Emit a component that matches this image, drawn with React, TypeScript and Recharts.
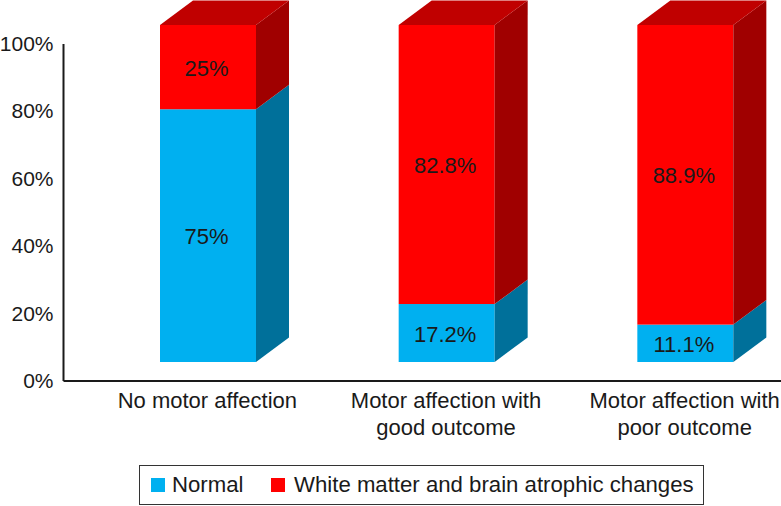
import React from 'react';
import { BarChart, Bar, XAxis, YAxis, Legend, LabelList } from 'recharts';

const categories = ['No motor affection', 'Motor affection with good outcome', 'Motor affection with poor outcome'];
const categoryLines = [['No motor affection'], ['Motor affection with', 'good outcome'], ['Motor affection with', 'poor outcome']];
const normal = [75, 17.2, 11.1];
const whiteMatter = [25, 82.8, 88.9];
const yTicks = [0, 20, 40, 60, 80, 100];

const data = categories.map((name, i) => ({ name, normal: normal[i], whiteMatter: whiteMatter[i] }));

const FONT = '"Liberation Sans", Arial, sans-serif';
const TEXT = '#1a1a1a';
// bars sit on a raised floor, the 3D look of the original
const LIFT = 19;
const DX = 33;
const DY = 24.5;

const Bar3D = ({ x, y, width, height, front, side, top }: any) => {
  const fy = y - LIFT;
  const r = x + width;
  const b = fy + height;
  return (
    <g>
      <rect x={x} y={fy} width={width} height={height} fill={front} />
      <polygon points={`${r},${fy} ${r + DX},${fy - DY} ${r + DX},${b - DY} ${r},${b}`} fill={side} />
      {top && <polygon points={`${x},${fy} ${x + DX},${fy - DY} ${r + DX},${fy - DY} ${r},${fy}`} fill={top} />}
    </g>
  );
};

const BarLabel = ({ x, y, width, height, value }: any) => (
  <text
    x={x + width / 2 - 1.5}
    y={y - LIFT + height / 2 + 1}
    textAnchor="middle"
    dominantBaseline="central"
    fontFamily={FONT}
    fontSize={22}
    fill={TEXT}
  >
    {value}%
  </text>
);

const CategoryTick = ({ x, y, index }: any) => (
  <text x={x - 1} y={y + 19} textAnchor="middle" fontFamily={FONT} fontSize={22} fill={TEXT}>
    {categoryLines[index].map((line, i) => (
      <tspan key={line} x={x - 1} dy={i === 0 ? 0 : 27}>
        {line}
      </tspan>
    ))}
  </text>
);

const LegendBox = () => (
  <div
    style={{
      position: 'relative',
      width: 565,
      height: 40,
      boxSizing: 'border-box',
      border: '1.5px solid #333',
      fontFamily: FONT,
      fontSize: 22.2,
      color: TEXT,
      background: '#fff',
    }}
  >
    <span style={{ position: 'absolute', left: 11, top: 12, width: 14, height: 14, background: '#00b0f0' }} />
    <span style={{ position: 'absolute', left: 32, top: 7, lineHeight: '24px' }}>Normal</span>
    <span style={{ position: 'absolute', left: 131, top: 12, width: 14, height: 14, background: '#ff0000' }} />
    <span style={{ position: 'absolute', left: 154, top: 7, lineHeight: '24px', whiteSpace: 'nowrap' }}>
      White matter and brain atrophic changes
    </span>
  </div>
);

export default function App() {
  return (
    <div style={{ position: 'absolute', left: 0, top: 0, width: 781, height: 506, overflow: 'hidden' }}>
      <BarChart width={805} height={506} data={data} barSize={96} margin={{ top: 44, right: 0, bottom: 0, left: 0 }}>
        <XAxis
          dataKey="name"
          height={84}
          padding={{ left: 25.5 }}
          interval={0}
          tickLine={false}
          axisLine={{ stroke: '#1a1a1a', strokeWidth: 2 }}
          tick={<CategoryTick />}
        />
        <YAxis
          width={63.5}
          domain={[0, 100]}
          ticks={yTicks}
          tickFormatter={(v) => `${v}%`}
          tickLine={false}
          tickMargin={4}
          axisLine={{ stroke: '#1a1a1a', strokeWidth: 2 }}
          tick={{ fontFamily: FONT, fontSize: 21, fill: TEXT, dy: -0.5 }}
        />
        <Legend
          verticalAlign="bottom"
          content={<LegendBox />}
          wrapperStyle={{ left: 139, width: 565, height: 41, bottom: 0 }}
        />
        <Bar
          dataKey="normal"
          stackId="a"
          isAnimationActive={false}
          shape={(p: any) => <Bar3D {...p} front="#00b0f0" side="#00709a" />}
        >
          <LabelList dataKey="normal" content={<BarLabel />} />
        </Bar>
        <Bar
          dataKey="whiteMatter"
          stackId="a"
          isAnimationActive={false}
          shape={(p: any) => <Bar3D {...p} front="#ff0000" side="#a00000" top="#c00000" />}
        >
          <LabelList dataKey="whiteMatter" content={<BarLabel />} />
        </Bar>
      </BarChart>
    </div>
  );
}
